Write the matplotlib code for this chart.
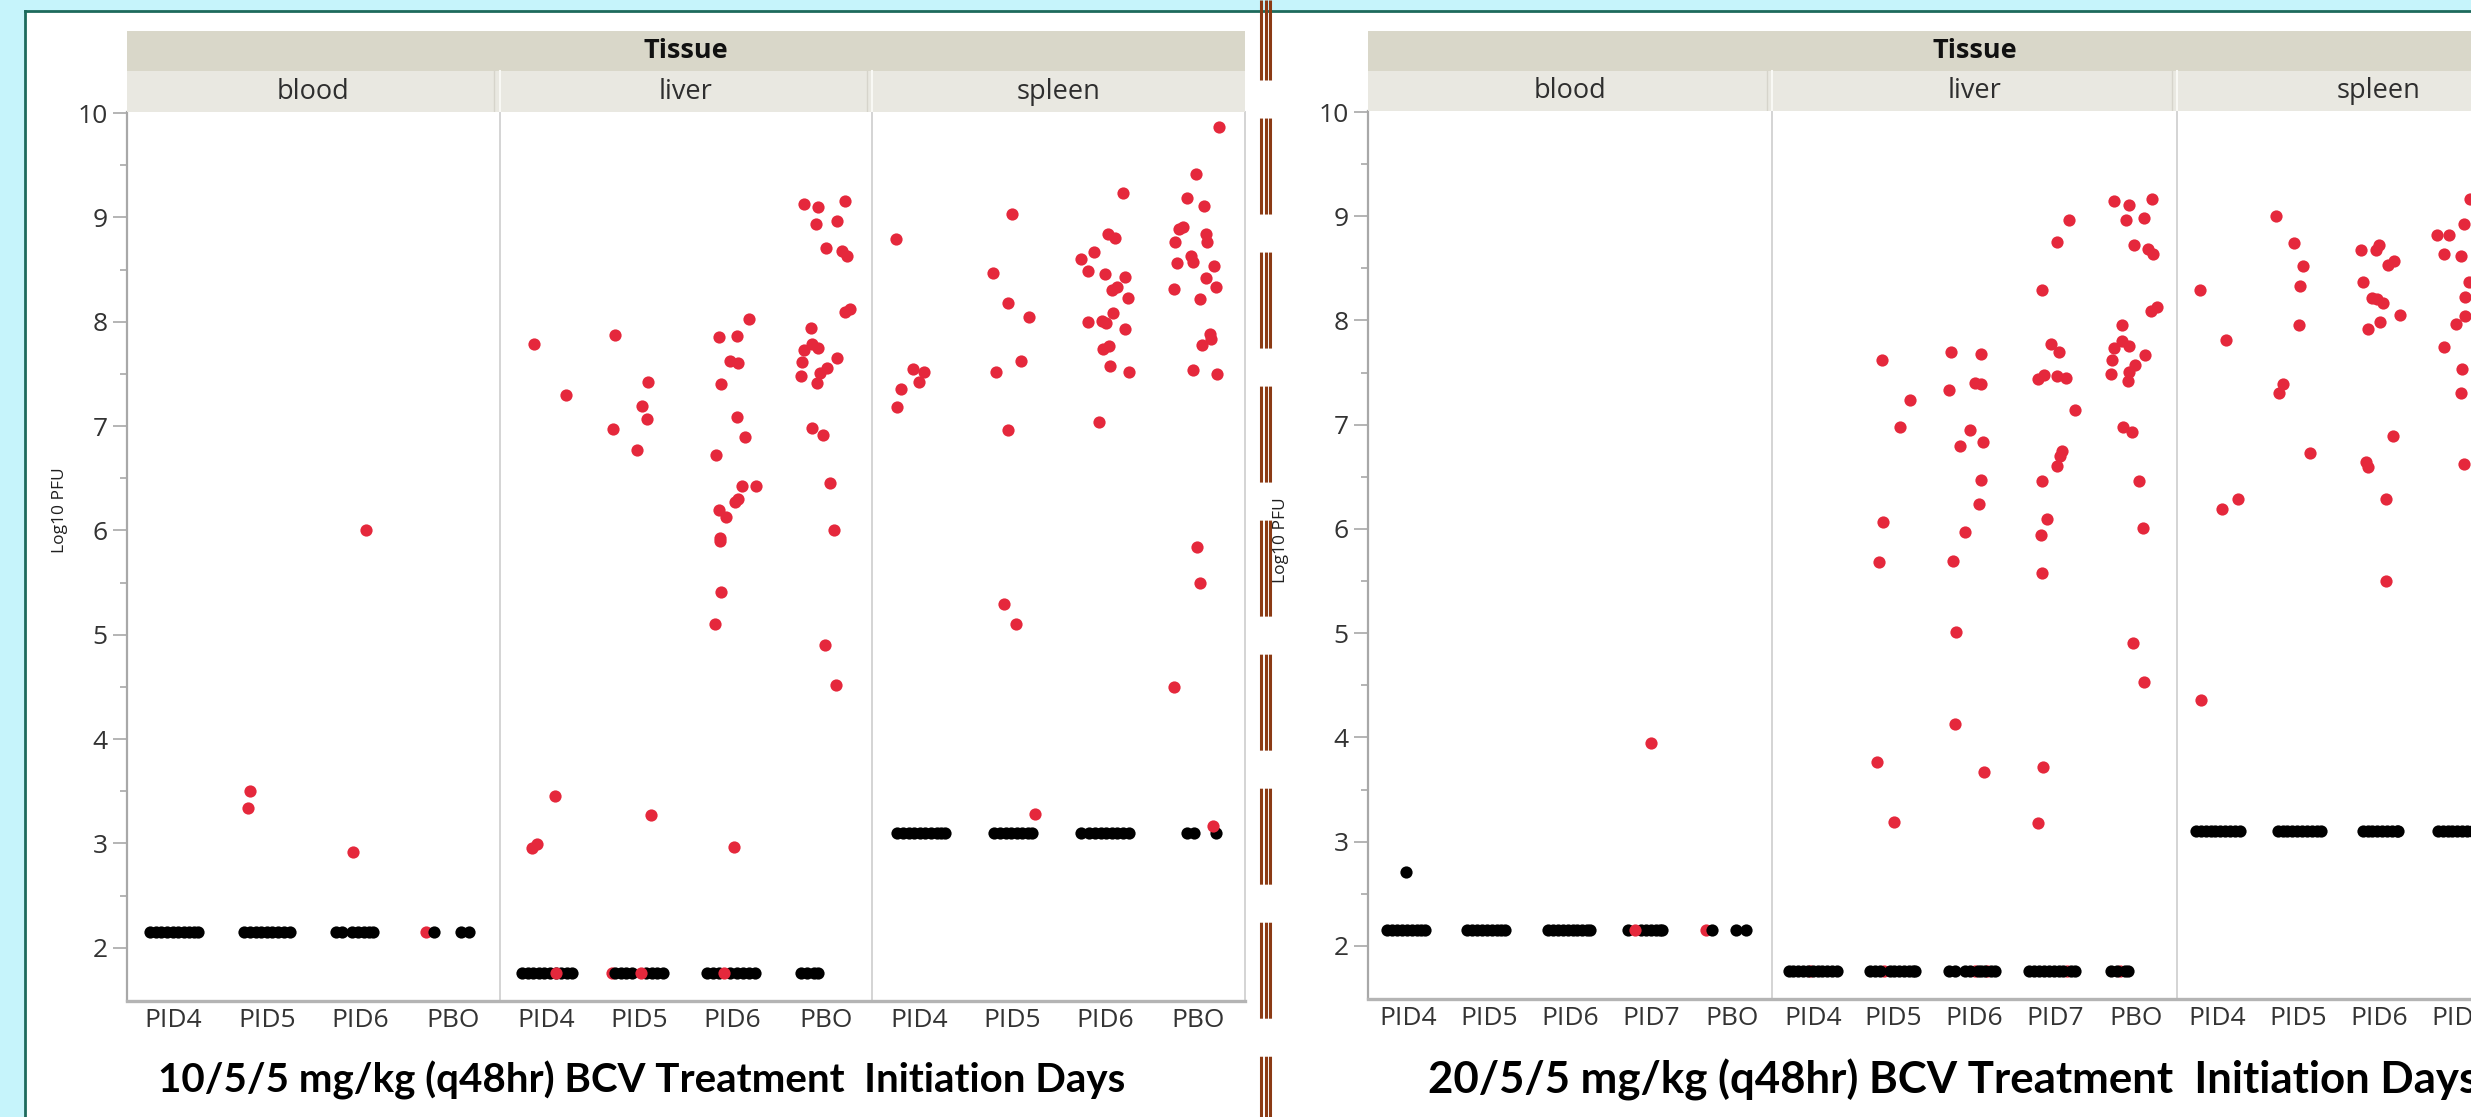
import matplotlib
matplotlib.use("Agg")
import matplotlib.pyplot as plt
from matplotlib.lines import Line2D
from matplotlib.patches import Rectangle
from matplotlib.ticker import FixedLocator

plt.rcParams['lines.scale_dashes'] = False
plt.rcParams['font.family'] = ['Open Sans', 'DejaVu Sans']

# ---------------- data ----------------
TISSUES = ["blood", "liver", "spleen"]
LEFT_DAYS = ["PID4", "PID5", "PID6", "PBO"]
RIGHT_DAYS = ["PID4", "PID5", "PID6", "PID7", "PBO"]
LEFT_TITLE = "10/5/5 mg/kg (q48hr) BCV Treatment  Initiation Days"
RIGHT_TITLE = "20/5/5 mg/kg (q48hr) BCV Treatment  Initiation Days"
HEADER = "Tissue"
YLABEL = "Log10 PFU"

# detection-limit levels (Log10 PFU) per tissue
LOD_LEVEL = {"blood": 2.15, "liver": 1.76, "spleen": 3.10}

# ---- left panel (10/5/5) : (day, jitter, log10 PFU) ----
L_BLOOD_RED = [("PID5", -0.18, 3.50), ("PID5", -0.20, 3.34), ("PID6", -0.07, 2.92), ("PID6", 0.07, 6.00)]
L_BLOOD_RED_HIDDEN = [("PBO", -0.29, 2.15)]
L_BLOOD_BLACK = {"PID4": [-0.25, -0.19, -0.13, -0.07, -0.01, 0.05, 0.11, 0.17, 0.22, 0.26],
                 "PID5": [-0.24, -0.18, -0.12, -0.06, 0.0, 0.06, 0.12, 0.18, 0.25],
                 "PID6": [-0.26, -0.19, -0.08, -0.02, 0.04, 0.10, 0.14],
                 "PBO": [-0.21, 0.08, 0.17]}

L_LIVER_RED = [
    ("PID4", -0.13, 7.79), ("PID4", 0.21, 7.30), ("PID4", 0.09, 3.45), ("PID4", -0.15, 2.96),
    ("PID4", -0.10, 2.99), ("PID4", 0.11, 1.76),
    ("PID5", -0.26, 7.87), ("PID5", 0.09, 7.42), ("PID5", 0.03, 7.19), ("PID5", 0.08, 7.07),
    ("PID5", -0.28, 6.97), ("PID5", -0.03, 6.77), ("PID5", 0.12, 3.27), ("PID5", 0.02, 1.76),
    ("PID6", 0.18, 8.03), ("PID6", -0.15, 7.85), ("PID6", 0.05, 7.86), ("PID6", -0.03, 7.62),
    ("PID6", 0.06, 7.60), ("PID6", -0.12, 7.40), ("PID6", 0.05, 7.09), ("PID6", 0.13, 6.90),
    ("PID6", -0.18, 6.72), ("PID6", 0.10, 6.43), ("PID6", 0.25, 6.43), ("PID6", 0.06, 6.30),
    ("PID6", 0.03, 6.27), ("PID6", -0.15, 6.20), ("PID6", -0.07, 6.13), ("PID6", -0.14, 5.93),
    ("PID6", -0.13, 5.90), ("PID6", -0.12, 5.41), ("PID6", -0.19, 5.10), ("PID6", 0.02, 2.97),
    ("PID6", -0.09, 1.76),
    ("PBO", -0.23, 9.13), ("PBO", -0.08, 9.10), ("PBO", 0.21, 9.16), ("PBO", -0.11, 8.94),
    ("PBO", 0.12, 8.97), ("PBO", 0.0, 8.71), ("PBO", 0.17, 8.68), ("PBO", 0.23, 8.63),
    ("PBO", 0.21, 8.09), ("PBO", 0.26, 8.12), ("PBO", -0.16, 7.94), ("PBO", -0.23, 7.73),
    ("PBO", -0.15, 7.79), ("PBO", -0.08, 7.75), ("PBO", -0.26, 7.61), ("PBO", 0.12, 7.65),
    ("PBO", 0.01, 7.56), ("PBO", -0.06, 7.51), ("PBO", -0.27, 7.48), ("PBO", -0.09, 7.41),
    ("PBO", -0.15, 6.98), ("PBO", -0.03, 6.91), ("PBO", 0.05, 6.45), ("PBO", 0.09, 6.00),
    ("PBO", -0.01, 4.90), ("PBO", 0.11, 4.52)]
L_LIVER_RED_HIDDEN = [("PID5", -0.29, 1.76)]
L_LIVER_BLACK = {"PID4": [-0.26, -0.20, -0.14, -0.08, -0.02, 0.04, 0.10, 0.16, 0.22, 0.28],
                 "PID5": [-0.26, -0.20, -0.14, -0.08, 0.07, 0.13, 0.19, 0.25],
                 "PID6": [-0.27, -0.21, -0.15, -0.03, 0.05, 0.11, 0.18, 0.24],
                 "PBO": [-0.27, -0.20, -0.13, -0.08]}

L_SPLEEN_RED = [
    ("PID4", -0.25, 8.79), ("PID4", -0.06, 7.55), ("PID4", 0.05, 7.52), ("PID4", 0.0, 7.42),
    ("PID4", -0.19, 7.36), ("PID4", -0.23, 7.18),
    ("PID5", 0.0, 9.03), ("PID5", -0.21, 8.47), ("PID5", -0.04, 8.18), ("PID5", 0.18, 8.05),
    ("PID5", 0.10, 7.62), ("PID5", -0.17, 7.52), ("PID5", -0.04, 6.96), ("PID5", -0.09, 5.29),
    ("PID5", 0.04, 5.10), ("PID5", 0.25, 3.28),
    ("PID6", 0.19, 9.23), ("PID6", -0.12, 8.67), ("PID6", -0.26, 8.60), ("PID6", 0.03, 8.84),
    ("PID6", 0.10, 8.80), ("PID6", -0.18, 8.49), ("PID6", 0.0, 8.46), ("PID6", 0.21, 8.43),
    ("PID6", 0.07, 8.30), ("PID6", 0.13, 8.33), ("PID6", 0.24, 8.23), ("PID6", 0.08, 8.08),
    ("PID6", -0.19, 8.00), ("PID6", -0.04, 8.01), ("PID6", 0.01, 7.99), ("PID6", 0.21, 7.93),
    ("PID6", -0.02, 7.74), ("PID6", 0.04, 7.77), ("PID6", 0.05, 7.58), ("PID6", 0.26, 7.52),
    ("PID6", -0.07, 7.04),
    ("PBO", 0.22, 9.87), ("PBO", -0.03, 9.42), ("PBO", -0.12, 9.19), ("PBO", 0.06, 9.11),
    ("PBO", -0.21, 8.89), ("PBO", -0.17, 8.91), ("PBO", -0.25, 8.76), ("PBO", 0.08, 8.84),
    ("PBO", 0.09, 8.76), ("PBO", -0.08, 8.63), ("PBO", -0.06, 8.57), ("PBO", -0.23, 8.56),
    ("PBO", 0.17, 8.53), ("PBO", 0.08, 8.42), ("PBO", -0.26, 8.31), ("PBO", 0.19, 8.33),
    ("PBO", 0.02, 8.22), ("PBO", 0.12, 7.88), ("PBO", 0.13, 7.83), ("PBO", 0.04, 7.78),
    ("PBO", -0.06, 7.54), ("PBO", 0.20, 7.50), ("PBO", -0.01, 5.84), ("PBO", 0.02, 5.50),
    ("PBO", -0.26, 4.50), ("PBO", 0.16, 3.17)]
L_SPLEEN_RED_HIDDEN = []
L_SPLEEN_BLACK = {"PID4": [-0.23, -0.17, -0.11, -0.05, 0.01, 0.07, 0.13, 0.19, 0.24, 0.28],
                  "PID5": [-0.19, -0.13, -0.07, -0.01, 0.05, 0.11, 0.17, 0.21],
                  "PID6": [-0.26, -0.17, -0.11, -0.05, 0.01, 0.07, 0.13, 0.19, 0.25],
                  "PBO": [-0.12, -0.05, 0.19]}

# ---- right panel (20/5/5) ----
R_BLOOD_RED = [("PID7", 0.0, 3.95), ("PID7", -0.20, 2.15)]
R_BLOOD_RED_HIDDEN = [("PBO", -0.32, 2.15)]
R_BLOOD_BLACK = {"PID4": [-0.26, -0.20, -0.14, -0.08, -0.02, 0.04, 0.10, 0.15, 0.20],
                 "PID5": [-0.27, -0.21, -0.15, -0.09, -0.03, 0.03, 0.09, 0.15, 0.20],
                 "PID6": [-0.27, -0.21, -0.15, -0.09, -0.03, 0.03, 0.09, 0.15, 0.21, 0.25],
                 "PID7": [-0.28, -0.12, -0.06, 0.0, 0.06, 0.11, 0.14],
                 "PBO": [-0.25, 0.05, 0.17]}
R_BLOOD_BLACK_EXTRA = [("PID4", -0.03, 2.71)]

R_LIVER_RED = [
    ("PID5", -0.15, 7.62), ("PID5", 0.20, 7.24), ("PID5", 0.08, 6.98), ("PID5", -0.13, 6.07),
    ("PID5", -0.18, 5.68), ("PID5", -0.20, 3.76), ("PID5", 0.01, 3.19),
    ("PID6", -0.29, 7.70), ("PID6", 0.08, 7.68), ("PID6", -0.31, 7.33), ("PID6", 0.01, 7.40),
    ("PID6", 0.08, 7.39), ("PID6", -0.05, 6.95), ("PID6", -0.18, 6.80), ("PID6", 0.10, 6.83),
    ("PID6", 0.08, 6.47), ("PID6", 0.05, 6.24), ("PID6", -0.12, 5.97), ("PID6", -0.26, 5.69),
    ("PID6", -0.23, 5.01), ("PID6", -0.24, 4.13), ("PID6", 0.12, 3.67),
    ("PID7", 0.17, 8.96), ("PID7", 0.02, 8.75), ("PID7", -0.17, 8.29), ("PID7", -0.05, 7.77),
    ("PID7", 0.04, 7.70), ("PID7", -0.22, 7.44), ("PID7", -0.14, 7.48), ("PID7", 0.02, 7.47),
    ("PID7", 0.13, 7.45), ("PID7", 0.24, 7.14), ("PID7", 0.08, 6.75), ("PID7", 0.06, 6.70),
    ("PID7", 0.02, 6.60), ("PID7", -0.17, 6.46), ("PID7", -0.10, 6.10), ("PID7", -0.18, 5.94),
    ("PID7", -0.16, 5.58), ("PID7", -0.15, 3.72), ("PID7", -0.21, 3.18),
    ("PBO", -0.27, 9.15), ("PBO", -0.09, 9.11), ("PBO", 0.20, 9.17), ("PBO", -0.13, 8.96),
    ("PBO", 0.09, 8.98), ("PBO", -0.03, 8.72), ("PBO", 0.15, 8.69), ("PBO", 0.21, 8.64),
    ("PBO", 0.18, 8.09), ("PBO", 0.26, 8.13), ("PBO", -0.18, 7.96), ("PBO", -0.27, 7.74),
    ("PBO", -0.17, 7.80), ("PBO", -0.09, 7.76), ("PBO", -0.30, 7.62), ("PBO", 0.11, 7.67),
    ("PBO", -0.01, 7.57), ("PBO", -0.09, 7.51), ("PBO", -0.31, 7.49), ("PBO", -0.10, 7.42),
    ("PBO", -0.16, 6.98), ("PBO", -0.05, 6.93), ("PBO", 0.03, 6.46), ("PBO", 0.08, 6.01),
    ("PBO", -0.04, 4.91), ("PBO", 0.10, 4.53)]
R_LIVER_RED_HIDDEN = [("PID4", -0.04, 1.76), ("PID5", -0.12, 1.76), ("PID6", 0.01, 1.76),
                      ("PID6", 0.16, 1.76), ("PID7", 0.15, 1.76), ("PBO", -0.20, 1.76)]
R_LIVER_BLACK = {"PID4": [-0.30, -0.24, -0.18, -0.12, -0.06, 0.0, 0.06, 0.12, 0.18, 0.24, 0.30],
                 "PID5": [-0.29, -0.23, -0.17, -0.05, 0.01, 0.07, 0.13, 0.19, 0.24, 0.27],
                 "PID6": [-0.31, -0.24, -0.12, -0.06, 0.04, 0.08, 0.13, 0.20, 0.25],
                 "PID7": [-0.32, -0.26, -0.20, -0.14, -0.08, -0.02, 0.04, 0.10, 0.19, 0.24],
                 "PBO": [-0.31, -0.24, -0.14, -0.10]}

R_SPLEEN_RED = [
    ("PID4", -0.21, 8.29), ("PID4", 0.11, 7.81), ("PID4", 0.06, 6.19), ("PID4", 0.26, 6.29),
    ("PID4", -0.20, 4.36),
    ("PID5", -0.27, 9.00), ("PID5", -0.05, 8.74), ("PID5", 0.06, 8.52), ("PID5", 0.03, 8.33),
    ("PID5", 0.01, 7.96), ("PID5", -0.18, 7.39), ("PID5", -0.24, 7.30), ("PID5", 0.15, 6.73),
    ("PID6", -0.22, 8.68), ("PID6", -0.03, 8.68), ("PID6", 0.0, 8.72), ("PID6", 0.11, 8.53),
    ("PID6", 0.19, 8.57), ("PID6", -0.19, 8.37), ("PID6", -0.09, 8.22), ("PID6", -0.02, 8.21),
    ("PID6", 0.05, 8.17), ("PID6", 0.26, 8.05), ("PID6", 0.02, 7.99), ("PID6", -0.14, 7.92),
    ("PID6", 0.17, 6.89), ("PID6", -0.16, 6.64), ("PID6", -0.14, 6.59), ("PID6", 0.09, 6.29),
    ("PID6", 0.09, 5.50),
    ("PID7", -0.28, 8.82), ("PID7", -0.13, 8.82), ("PID7", 0.05, 8.93), ("PID7", 0.13, 9.17),
    ("PID7", -0.19, 8.64), ("PID7", 0.01, 8.62), ("PID7", 0.11, 8.37), ("PID7", 0.07, 8.23),
    ("PID7", 0.07, 8.04), ("PID7", -0.04, 7.97), ("PID7", -0.19, 7.75), ("PID7", 0.03, 7.53),
    ("PID7", 0.02, 7.30), ("PID7", 0.05, 6.62)]
R_SPLEEN_RED_HIDDEN = []
R_SPLEEN_BLACK = {"PID4": [-0.26, -0.20, -0.14, -0.08, -0.02, 0.04, 0.10, 0.16, 0.22, 0.28],
                  "PID5": [-0.25, -0.19, -0.13, -0.07, -0.01, 0.05, 0.11, 0.17, 0.23, 0.29],
                  "PID6": [-0.20, -0.14, -0.08, -0.02, 0.04, 0.10, 0.16, 0.22, 0.24],
                  "PID7": [-0.27, -0.21, -0.15, -0.09, -0.03, 0.03, 0.09, 0.15, 0.21, 0.27],
                  "PBO": []}

# ---------------- styling ----------------
W, H, DPI = 2471, 1117, 100
CYAN = "#c6f4fb"
TEAL = "#1d6a5c"
BROWN = "#8b3a14"
RED = "#e5283c"
BAND_DARK = "#d9d7c9"
BAND_LIGHT = "#e9e8e1"
AXIS_GRAY = "#a8a8a8"
SEP_GRAY = "#d4d4d4"
TXT = "#333333"
YMIN, YMAX = 1.49, 10.01
MS = 8.8

fig = plt.figure(figsize=(W / DPI, H / DPI), dpi=DPI)
fig.patch.set_facecolor(CYAN)


def fx(px):
    return px / W


def fy(py):
    return 1 - py / H


# white page with teal border
fig.patches.append(Rectangle((fx(25), 0), 1 - fx(25), fy(11), transform=fig.transFigure,
                             facecolor="white", edgecolor="none", zorder=-5))
fig.lines.append(Line2D([fx(25), 1], [fy(11), fy(11)], transform=fig.transFigure,
                        color=TEAL, lw=2.0, zorder=1))
fig.lines.append(Line2D([fx(25), fx(25)], [fy(11), 0], transform=fig.transFigure,
                        color=TEAL, lw=2.0, zorder=1))


def draw_panel(x0, x1, ytop, ybot, days, data, title, title_x, title_size, ylabel_xy):
    k = len(days)
    n = k * len(TISSUES)
    ax = fig.add_axes([fx(x0), fy(ybot), fx(x1 - x0), (ybot - ytop) / H])
    ax.set_facecolor("white")
    ax.set_xlim(-0.5, n - 0.5)
    ax.set_ylim(YMIN, YMAX)
    ax.spines["top"].set_visible(False)
    ax.spines["left"].set_color(AXIS_GRAY)
    ax.spines["left"].set_linewidth(1.6)
    ax.spines["bottom"].set_color("#b4b4b4")
    ax.spines["bottom"].set_linewidth(2.4)
    ax.spines["right"].set_color(SEP_GRAY)
    ax.spines["right"].set_linewidth(1.4)
    for f in range(1, len(TISSUES)):
        ax.axvline(f * k - 0.5, color=SEP_GRAY, lw=1.4, zorder=1)

    ax.set_yticks(range(2, 11))
    ax.yaxis.set_minor_locator(FixedLocator([v + 0.5 for v in range(2, 10)]))
    ax.tick_params(axis="y", which="major", length=10, width=1.2, color=AXIS_GRAY,
                   labelsize=19, labelcolor=TXT, pad=4)
    ax.tick_params(axis="y", which="minor", length=5, width=1.2, color=AXIS_GRAY)
    xt, xl = [], []
    for f in range(len(TISSUES)):
        for d, day in enumerate(days):
            xt.append(f * k + d)
            xl.append(day)
    ax.set_xticks(xt)
    ax.set_xticklabels(xl)
    ax.tick_params(axis="x", length=0, labelsize=19, labelcolor=TXT, pad=5)

    for f, tissue in enumerate(TISSUES):
        red, hidden, black, extra = data[tissue]
        lod = LOD_LEVEL[tissue]

        def xs(pts):
            return [f * k + days.index(d) + j for d, j, v in pts]

        def ys(pts):
            return [v for d, j, v in pts]

        if hidden:
            ax.plot(xs(hidden), ys(hidden), "o", ms=MS, color=RED, mew=0, zorder=2)
        bx, by = [], []
        for day, jits in black.items():
            for j in jits:
                bx.append(f * k + days.index(day) + j)
                by.append(lod)
        bx += xs(extra)
        by += ys(extra)
        ax.plot(bx, by, "o", ms=MS, color="black", mew=0, zorder=3)
        if red:
            ax.plot(xs(red), ys(red), "o", ms=MS, color=RED, mew=0, zorder=4)

    # header bands
    hax = fig.add_axes([fx(x0), fy(ytop), fx(x1 - x0), (ytop - 31) / H])
    hax.set_xlim(-0.5, n - 0.5)
    hax.set_ylim(0, 81)
    hax.axis("off")
    hax.add_patch(Rectangle((-0.5, 41), n, 40, facecolor=BAND_DARK, edgecolor="none"))
    for f, tissue in enumerate(TISSUES):
        hax.add_patch(Rectangle((f * k - 0.5, 0), k, 41, facecolor=BAND_LIGHT, edgecolor="none"))
        if f > 0:
            hax.plot([f * k - 0.5, f * k - 0.5], [0, 41], color="#f8f8f4", lw=1.5)
            hax.plot([f * k - 0.56, f * k - 0.56], [0, 41], color="#d6d4cb", lw=1.0)
        hax.text(f * k + (k - 1) / 2, 20, tissue, ha="center", va="center", fontsize=19.5,
                 color="#2e2e2e")
    hax.text((n - 1) / 2, 61, HEADER, ha="center", va="center", fontsize=19.5,
             fontweight="bold", color="#111111")

    fig.text(fx(title_x), fy(1080), title, ha="left", va="center", fontsize=title_size,
             fontweight="bold", family=["Lato", "DejaVu Sans"], color="black")
    fig.text(fx(ylabel_xy[0]), fy(ylabel_xy[1]), YLABEL, rotation=90, ha="center",
             va="center", fontsize=12.5, color="#202020")
    return ax


left_data = {"blood": (L_BLOOD_RED, L_BLOOD_RED_HIDDEN, L_BLOOD_BLACK, []),
             "liver": (L_LIVER_RED, L_LIVER_RED_HIDDEN, L_LIVER_BLACK, []),
             "spleen": (L_SPLEEN_RED, L_SPLEEN_RED_HIDDEN, L_SPLEEN_BLACK, [])}
right_data = {"blood": (R_BLOOD_RED, R_BLOOD_RED_HIDDEN, R_BLOOD_BLACK, R_BLOOD_BLACK_EXTRA),
              "liver": (R_LIVER_RED, R_LIVER_RED_HIDDEN, R_LIVER_BLACK, []),
              "spleen": (R_SPLEEN_RED, R_SPLEEN_RED_HIDDEN, R_SPLEEN_BLACK, [])}

draw_panel(127, 1245, 112, 1001, LEFT_DAYS, left_data, LEFT_TITLE, 158, 29, (60, 510))
draw_panel(1368, 2581, 111, 999, RIGHT_DAYS, right_data, RIGHT_TITLE, 1428, 31.5, (1281, 540))

# dashed triple separator
for xc in (1260.7, 1265.7, 1270.2):
    fig.lines.append(Line2D([fx(xc), fx(xc)], [1, 0], transform=fig.transFigure,
                            color=BROWN, lw=2.2, linestyle=(11.5, (69.1, 27.4)),
                            solid_capstyle="butt", dash_capstyle="butt", zorder=10))

fig.savefig("out.png", dpi=DPI, facecolor=fig.get_facecolor())
